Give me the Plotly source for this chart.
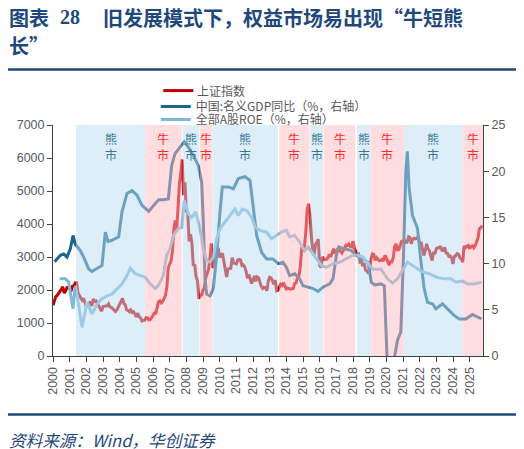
import plotly.graph_objects as go

# ---------------- data ----------------
years = list(range(2000, 2026))
year_labels = [str(y) for y in years]

# Shanghai Composite, monthly close, Jan-2000 .. Oct-2025
sse_close = [
    1535, 1715, 1800, 1836, 1894, 1928, 2023, 2097, 1910, 1961, 2070, 2073,   # 2000
    2065, 1960, 2112, 2119, 2214, 2218, 1920, 1834, 1750, 1690, 1747, 1646,   # 2001
    1491, 1525, 1604, 1649, 1515, 1732, 1654, 1670, 1581, 1503, 1434, 1358,   # 2002
    1500, 1512, 1511, 1521, 1576, 1487, 1477, 1422, 1367, 1349, 1397, 1497,   # 2003
    1590, 1675, 1742, 1595, 1555, 1399, 1386, 1342, 1396, 1320, 1340, 1266,   # 2004
    1191, 1306, 1181, 1159, 1060, 1080, 1083, 1162, 1155, 1092, 1099, 1161,   # 2005
    1258, 1299, 1298, 1440, 1641, 1672, 1612, 1658, 1752, 1837, 2099, 2675,   # 2006
    2786, 2881, 3183, 3841, 4109, 3820, 4471, 5218, 5552, 5954, 4871, 5262,   # 2007
    4383, 4348, 3472, 3693, 3433, 2736, 2776, 2397, 2293, 1729, 1871, 1821,   # 2008
    1991, 2082, 2373, 2477, 2633, 2959, 3412, 2668, 2779, 2996, 3195, 3277,   # 2009
    2989, 3051, 3110, 2871, 2592, 2398, 2638, 2639, 2656, 2979, 2820, 2808,   # 2010
    2791, 2905, 2928, 2911, 2743, 2762, 2701, 2568, 2359, 2469, 2333, 2199,   # 2011
    2292, 2428, 2263, 2397, 2373, 2225, 2103, 2048, 2086, 2069, 1980, 2269,   # 2012
    2385, 2366, 2237, 2178, 2301, 1979, 1994, 2098, 2175, 2141, 2220, 2116,   # 2013
    2033, 2056, 2033, 2026, 2039, 2048, 2202, 2217, 2364, 2420, 2683, 3235,   # 2014
    3210, 3310, 3748, 4442, 4612, 4277, 3664, 3206, 3053, 3383, 3445, 3539,   # 2015
    2738, 2688, 3004, 2938, 2917, 2930, 2979, 3085, 3005, 3100, 3250, 3104,   # 2016
    3159, 3242, 3223, 3155, 3117, 3192, 3273, 3361, 3349, 3393, 3317, 3307,   # 2017
    3481, 3259, 3169, 3082, 3095, 2847, 2876, 2725, 2821, 2603, 2588, 2494,   # 2018
    2585, 2941, 3091, 3078, 2899, 2979, 2933, 2886, 2905, 2929, 2872, 3050,   # 2019
    2977, 2880, 2750, 2860, 2852, 2985, 3310, 3396, 3218, 3225, 3392, 3473,   # 2020
    3483, 3509, 3442, 3447, 3615, 3591, 3397, 3544, 3568, 3547, 3564, 3640,   # 2021
    3361, 3462, 3252, 3047, 3187, 3399, 3253, 3202, 3024, 2893, 3151, 3089,   # 2022
    3256, 3280, 3273, 3323, 3205, 3202, 3291, 3120, 3110, 3018, 3030, 2975,   # 2023
    2789, 3015, 3041, 3105, 3087, 2967, 2939, 2842, 3336, 3280, 3327, 3352,   # 2024
    3251, 3321, 3336, 3279, 3347, 3444, 3573, 3858, 3883, 3955,               # 2025
]
sse_x = [2000 + i / 12 for i in range(len(sse_close))]

# China nominal GDP yoy (%), right axis
gdp_year = [2000.1, 2000.44, 2000.64, 2000.84, 2001.04, 2001.2, 2001.34, 2001.64, 2001.84,
            2002.14, 2002.34, 2002.64, 2002.94, 2003.14, 2003.3, 2003.5, 2003.74, 2003.94,
            2004.14, 2004.44, 2004.74, 2005.04, 2005.34, 2005.74, 2006.04, 2006.34, 2006.62,
            2006.92, 2007.12, 2007.32, 2007.62, 2007.88, 2008.12, 2008.42, 2008.72, 2008.92,
            2009.02, 2009.12, 2009.22, 2009.42, 2009.62, 2009.82, 2010.02, 2010.16, 2010.52,
            2010.82, 2011.12, 2011.52, 2011.82, 2012.02, 2012.22, 2012.52, 2012.82, 2013.2,
            2013.5, 2013.8, 2014.0, 2014.2, 2014.5, 2014.8, 2015.0, 2015.3, 2015.6, 2015.9,
            2016.2, 2016.6, 2016.8, 2017.0, 2017.15, 2017.5, 2017.9, 2018.2, 2018.6, 2018.9,
            2019.1, 2019.3, 2019.68, 2019.88, 2020.15, 2020.45, 2020.67, 2020.87, 2021.03,
            2021.17, 2021.26, 2021.37, 2021.57, 2021.87, 2022.08, 2022.27, 2022.47, 2022.77,
            2022.97, 2023.37, 2023.67, 2024.07, 2024.37, 2024.77, 2025.17, 2025.47, 2025.71]
gdp_yoy = [10.2, 10.9, 11.05, 10.7, 11.6, 13.05, 12.1, 11.4, 10.7,
           9.4, 9.15, 9.5, 9.8, 13.4, 12.4, 12.5, 12.7, 12.9,
           15.6, 17.6, 17.9, 17.4, 16.3, 15.65, 16.3, 16.9, 16.9,
           17.0, 20.6, 21.9, 22.6, 23.2, 22.6, 21.7, 20.6, 18.8,
           14.5, 8.35, 6.7, 6.5, 7.3, 10.9, 15.6, 18.3, 18.3,
           18.1, 19.2, 19.4, 19.0, 15.9, 13.05, 11.2, 10.5, 10.5,
           10.0, 10.15, 9.6, 8.7, 8.9, 8.35, 7.6, 7.45, 7.3, 7.0,
           7.45, 7.8, 8.35, 10.9, 11.8, 11.6, 11.4, 10.9, 10.5, 10.15,
           8.0, 7.7, 7.8, 7.6, -5.3, -0.5, 1.7, 2.6, 10.9,
           19.9, 22.15, 18.1, 15.2, 13.8, 10.15, 7.3, 5.8, 5.65,
           5.1, 5.65, 5.1, 4.4, 4.0, 4.0, 4.5, 4.2, 4.0]

# All A-share ROE (%), right axis
roe_year = [2000.4, 2000.74, 2000.94, 2001.08, 2001.2, 2001.34, 2001.5, 2001.74, 2002.04,
            2002.34, 2002.64, 2002.94, 2003.24, 2003.54, 2003.84, 2004.14, 2004.44, 2004.64,
            2004.94, 2005.24, 2005.54, 2005.84, 2006.14, 2006.34, 2006.62, 2006.82, 2007.02,
            2007.22, 2007.52, 2007.72, 2007.88, 2008.12, 2008.32, 2008.56, 2008.82, 2009.02,
            2009.22, 2009.42, 2009.62, 2009.82, 2010.02, 2010.32, 2010.62, 2010.92, 2011.12,
            2011.36, 2011.62, 2011.92, 2012.12, 2012.42, 2012.82, 2013.1, 2013.4, 2013.7,
            2014.0, 2014.2, 2014.5, 2014.8, 2015.1, 2015.3, 2015.6, 2015.9, 2016.1, 2016.4,
            2016.8, 2017.2, 2017.6, 2018.0, 2018.3, 2018.6, 2018.9, 2019.2, 2019.68, 2020.07,
            2020.37, 2020.67, 2020.97, 2021.27, 2021.57, 2021.87, 2022.17, 2022.57, 2023.07,
            2023.47, 2023.87, 2024.17, 2024.57, 2024.87, 2025.27, 2025.71]
roe_pct = [8.35, 8.35, 8.0, 6.2, 5.1, 7.6, 6.0, 3.1, 5.8,
           4.55, 5.6, 6.2, 6.5, 6.7, 7.3, 7.8, 8.7, 9.5,
           8.9, 8.7, 8.5, 7.8, 7.3, 7.7, 8.7, 10.9, 11.6,
           13.05, 13.8, 13.9, 16.8, 15.4, 15.0, 15.6, 13.8, 11.6,
           10.3, 10.15, 10.7, 12.7, 13.8, 14.5, 15.2, 15.9, 15.2,
           15.9, 15.75, 15.0, 13.95, 13.6, 13.4, 12.7, 13.05, 13.4,
           13.6, 12.9, 13.05, 12.3, 11.4, 11.8, 11.05, 10.3, 9.8, 9.6,
           10.0, 10.15, 10.5, 10.9, 10.9, 10.7, 10.0, 9.4, 9.4, 8.35,
           7.9, 8.35, 9.25, 10.15, 9.8, 9.4, 9.1, 8.9, 8.5,
           8.35, 8.35, 8.0, 8.1, 7.8, 7.8, 8.0]

# Bull / bear market periods
region_start = [2001.38, 2005.53, 2007.78, 2008.81, 2009.58, 2013.57, 2015.43, 2016.23, 2018.24, 2019.06, 2021.07, 2024.57]
region_end   = [2005.53, 2007.72, 2008.77, 2009.56, 2013.49, 2015.39, 2016.20, 2018.15, 2019.05, 2021.07, 2024.57, 2025.80]
region_kind  = ["熊", "牛", "熊", "牛", "熊", "牛", "熊", "牛", "熊", "牛", "熊", "牛"]

# ---------------- figure ----------------
NAVY = "#1F497D"
GREY = "#595959"
RED = "#C00000"
GDP_C = "#1B6591"
ROE_C = "#7DB9DA"
SSE_NAME = "上证指数"

fig = go.Figure()
fig.add_trace(go.Scatter(x=sse_x, y=sse_close, name=SSE_NAME, mode="lines",
                         line=dict(color=RED, width=3), showlegend=False))
fig.add_trace(go.Scatter(x=gdp_year, y=gdp_yoy, name="中国:名义GDP同比（%，右轴）", mode="lines",
                         line=dict(color=GDP_C, width=3), yaxis="y2", legend="legend3"))
fig.add_trace(go.Scatter(x=roe_year, y=roe_pct, name="全部A股ROE（%，右轴）", mode="lines",
                         line=dict(color=ROE_C, width=3), yaxis="y2", legend="legend4"))

for s, e, k in zip(region_start, region_end, region_kind):
    bear = (k == "熊")
    fig.add_vrect(x0=s, x1=e, fillcolor="#BDDDF1" if bear else "#FFBBC1",
                  opacity=0.5, layer="above", line_width=0)
    fig.add_annotation(x=(s + e) / 2, y=1, xref="x", yref="paper", yanchor="top",
                       yshift=-3, showarrow=False, text=k + "<br>市",
                       font=dict(size=12, color="#3A7898" if bear else "#FF2A2A",
                                 family="Noto Sans CJK SC"))

axis_common = dict(showgrid=False, zeroline=False, showline=True, linecolor="#404040",
                   linewidth=1, ticks="outside", ticklen=5, tickcolor="#404040",
                   automargin=False, tickfont=dict(size=12.5, color=GREY))

legend_common = dict(xanchor="left", yanchor="middle", yref="container", bgcolor="rgba(0,0,0,0)",
                     font=dict(size=12, color=GREY, family="Noto Sans CJK SC"), itemwidth=30)

fig.update_layout(
    width=516, height=441,
    margin=dict(l=44.7, r=41.3, t=116.5, b=93.3, autoexpand=False),
    paper_bgcolor="white", plot_bgcolor="white",
    font=dict(family="Liberation Sans, Noto Sans CJK SC", color=GREY),
    xaxis=dict(range=[2000, 2025.8], tickvals=years, ticktext=year_labels,
               tickangle=-90, **axis_common),
    yaxis=dict(range=[0, 7000], dtick=1000, tickformat="d", **axis_common),
    yaxis2=dict(range=[0, 25], dtick=5, overlaying="y", side="right", **axis_common),
    legend3=dict(x=0.239, y=0.7764, **legend_common),
    legend4=dict(x=0.239, y=0.7469, **legend_common),
    showlegend=True,
)

# legend key for the Shanghai Composite (first row of the legend block)
fig.add_shape(type="line", xref="paper", yref="paper", x0=0.2565, x1=0.3263, y0=1.149, y1=1.149,
              line=dict(color=RED, width=3))
fig.add_annotation(xref="paper", yref="paper", x=0.331, y=1.149, xanchor="left", yanchor="middle",
                   showarrow=False, text=SSE_NAME,
                   font=dict(size=12, color=GREY, family="Noto Sans CJK SC"))

# title
fig.add_annotation(xref="paper", yref="paper", x=-0.108, y=1.466, xanchor="left", yanchor="middle",
                   showarrow=False, text="<b>图表</b>",
                   font=dict(size=20, color=NAVY, family="Noto Sans CJK SC"))
fig.add_annotation(xref="paper", yref="paper", x=0.012, y=1.466, xanchor="left", yanchor="middle",
                   showarrow=False, text="<b>28</b>",
                   font=dict(size=20, color=NAVY, family="Liberation Serif"))
fig.add_annotation(xref="paper", yref="paper", x=0.112, y=1.466, xanchor="left", yanchor="middle",
                   showarrow=False, text="<b>旧发展模式下，权益市场易出现“牛短熊</b>",
                   font=dict(size=20, color=NAVY, family="Noto Sans CJK SC"))
fig.add_annotation(xref="paper", yref="paper", x=-0.108, y=1.344, xanchor="left", yanchor="middle",
                   showarrow=False, text="<b>长”</b>",
                   font=dict(size=20, color=NAVY, family="Noto Sans CJK SC"))
# rules
fig.add_shape(type="line", xref="paper", yref="paper", x0=-0.111, x1=1.079, y0=1.240, y1=1.240,
              line=dict(color=NAVY, width=2.5))
fig.add_shape(type="line", xref="paper", yref="paper", x0=-0.111, x1=1.079, y0=-0.2535, y1=-0.2535,
              line=dict(color=NAVY, width=2.5))
# source
fig.add_annotation(xref="paper", yref="paper", x=-0.108, y=-0.3646, xanchor="left", yanchor="middle",
                   showarrow=False, text="<i>资料来源：Wind，华创证券</i>",
                   font=dict(size=16.6, color=NAVY, family="Noto Sans CJK SC"))

fig.write_html("out.html")
